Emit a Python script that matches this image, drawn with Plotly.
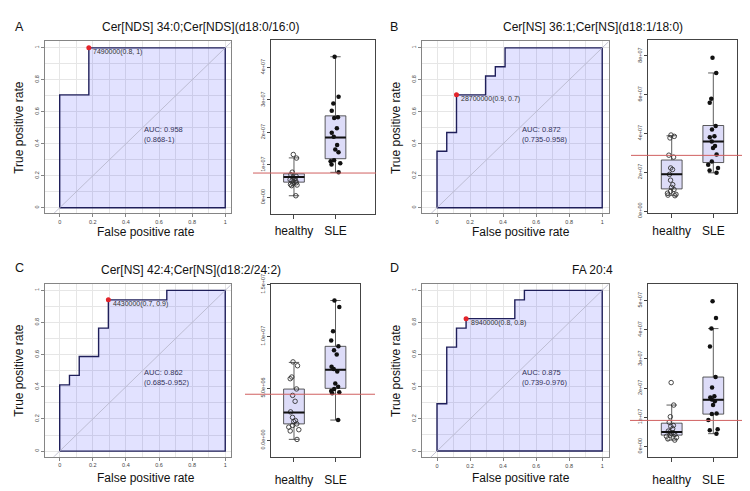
import plotly.graph_objects as go

# ---------------- data ----------------
titles = ["Cer[NDS] 34:0;Cer[NDS](d18:0/16:0)",
          "Cer[NS] 36:1;Cer[NS](d18:1/18:0)",
          "Cer[NS] 42:4;Cer[NS](d18:2/24:2)",
          "FA 20:4"]
letters = ["A", "B", "C", "D"]
groups = ["healthy", "SLE"]

roc_fpr_A = [0, 0, 0.176, 0.176, 1]
roc_tpr_A = [0, 0.706, 0.706, 1, 1]
roc_fpr_B = [0, 0, 0.059, 0.059, 0.118, 0.118, 0.294, 0.294, 0.353, 0.353, 0.412, 0.412, 1]
roc_tpr_B = [0, 0.353, 0.353, 0.471, 0.471, 0.706, 0.706, 0.824, 0.824, 0.882, 0.882, 1, 1]
roc_fpr_C = [0, 0, 0.059, 0.059, 0.118, 0.118, 0.235, 0.235, 0.294, 0.294, 0.647, 0.647, 1]
roc_tpr_C = [0, 0.412, 0.412, 0.471, 0.471, 0.588, 0.588, 0.765, 0.765, 0.941, 0.941, 1, 1]
roc_fpr_D = [0, 0, 0.059, 0.059, 0.118, 0.118, 0.176, 0.176, 0.471, 0.471, 0.529, 0.529, 1]
roc_tpr_D = [0, 0.294, 0.294, 0.647, 0.647, 0.765, 0.765, 0.824, 0.824, 0.941, 0.941, 1, 1]

auc = [0.958, 0.872, 0.862, 0.875]
auc_lo = [0.868, 0.735, 0.685, 0.739]
auc_hi = [1, 0.958, 0.952, 0.976]
thresholds = [7490000, 28700000, 4430000, 8940000]
best_spec = [0.8, 0.9, 0.7, 0.8]
best_sens = [1, 0.7, 0.9, 0.8]
best_fpr = [0.176, 0.118, 0.294, 0.176]
best_tpr = [1.0, 0.706, 0.941, 0.824]

healthy_q1 = [4.69e6, 1.14e7, 1.57e6, 3.9e6]
healthy_median = [6.27e6, 1.89e7, 2.66e6, 5.0e6]
healthy_q3 = [7.25e6, 2.63e7, 4.93e6, 8.0e6]
healthy_low = [0.5e6, 0.81e7, 0.08e6, 2.2e6]
healthy_high = [1.215e7, 3.88e7, 7.5e6, 1.42e7]
sle_q1 = [1.19e7, 2.50e7, 5.0e6, 1.11e7]
sle_median = [1.84e7, 3.58e7, 6.8e6, 1.60e7]
sle_q3 = [2.51e7, 4.41e7, 9.05e6, 2.38e7]
sle_low = [7.7e6, 1.97e7, 1.94e6, 4.4e6]
sle_high = [4.33e7, 7.12e7, 1.347e7, 4.04e7]

healthy_A = [1.32e7, 1.21e7, 7.76e6, 7.0e6, 6.5e6, 6.2e6, 5.8e6, 5.5e6, 5.2e6, 5.0e6,
             4.7e6, 4.5e6, 4.2e6, 4.0e6, 3.8e6, 3.6e6, 0.5e6]
sle_A = [4.33e7, 3.10e7, 2.89e7, 2.67e7, 2.47e7, 2.44e7, 2.13e7, 1.99e7, 1.87e7, 1.61e7,
         1.47e7, 1.39e7, 1.14e7, 1.11e7, 1.05e7, 1.01e7, 7.7e6]
healthy_B = [3.92e7, 3.85e7, 3.77e7, 2.88e7, 2.78e7, 2.22e7, 2.14e7, 1.89e7, 1.59e7, 1.36e7,
             1.22e7, 1.11e7, 1.02e7, 0.92e7, 0.86e7, 0.82e7, 0.79e7]
sle_B = [7.9e7, 7.12e7, 5.79e7, 5.58e7, 4.38e7, 4.21e7, 3.85e7, 3.80e7, 3.58e7, 3.35e7,
         3.25e7, 2.92e7, 2.55e7, 2.39e7, 2.22e7, 2.09e7, 1.97e7]
healthy_C = [7.55e6, 7.18e6, 6.09e6, 5.93e6, 4.94e6, 4.32e6, 3.75e6, 2.73e6, 2.20e6, 1.89e6,
             1.79e6, 1.57e6, 1.42e6, 1.26e6, 1.01e6, 0.89e6, 0.07e6]
sle_C = [13.47e6, 12.85e6, 10.51e6, 9.61e6, 9.05e6, 8.67e6, 8.27e6, 7.09e6, 6.87e6, 6.62e6,
         5.47e6, 5.16e6, 4.94e6, 4.75e6, 4.63e6, 4.53e6, 1.94e6]
healthy_D = [2.19e7, 1.42e7, 1.02e7, 0.83e7, 0.72e7, 0.69e7, 0.61e7, 0.53e7, 0.50e7, 0.47e7,
             0.44e7, 0.41e7, 0.39e7, 0.35e7, 0.31e7, 0.26e7, 0.22e7]
sle_D = [4.98e7, 4.40e7, 4.04e7, 3.43e7, 2.38e7, 2.02e7, 1.72e7, 1.68e7, 1.61e7, 1.55e7,
         1.42e7, 1.13e7, 1.11e7, 0.91e7, 0.59e7, 0.56e7, 0.44e7]

box_tickvals = [[0, 1e7, 2e7, 3e7, 4e7],
                [0, 2e7, 4e7, 6e7, 8e7],
                [0, 5e6, 1e7, 1.5e7],
                [0, 1e7, 2e7, 3e7, 4e7, 5e7]]
box_ticktext = [["0e+00", "1e+07", "2e+07", "3e+07", "4e+07"],
                ["0e+00", "2e+07", "4e+07", "6e+07", "8e+07"],
                ["0.0e+00", "5.0e+06", "1.0e+07", "1.5e+07"],
                ["0e+00", "1e+07", "2e+07", "3e+07", "4e+07", "5e+07"]]

roc_fpr = [roc_fpr_A, roc_fpr_B, roc_fpr_C, roc_fpr_D]
roc_tpr = [roc_tpr_A, roc_tpr_B, roc_tpr_C, roc_tpr_D]
healthy_pts = [healthy_A, healthy_B, healthy_C, healthy_D]
sle_pts = [sle_A, sle_B, sle_C, sle_D]

# ---------------- layout geometry (pixels) ----------------
W, H = 750, 491
def px(x): return x / W
def py(y): return 1 - y / H

roc_frames = [(37.3, 222.7, 24, 201.2), (414.3, 600.5, 24, 201.5),
              (37.3, 222.7, 274.3, 452.7), (414.3, 600.5, 274.3, 453.0)]
roc_xr = [[-0.087, 1.033], [-0.089, 1.038], [-0.087, 1.033], [-0.089, 1.038]]
roc_yr = [[-0.033, 1.041], [-0.035, 1.041], [-0.036, 1.040], [-0.038, 1.040]]
box_frames = [(262.7, 366.5, 22.3, 202.0), (640.3, 728.7, 22.3, 201.5),
              (262.7, 351.7, 274.3, 452.7), (640.3, 728.7, 274.3, 452.7)]
box_xr = [[-0.561, 1.94], [-0.5625, 1.5625], [-0.561, 1.583], [-0.5625, 1.5625]]
box_yr = [[-0.507e7, 4.857e7], [-0.12e7, 8.84e7], [-1.61e6, 15.07e6], [-0.355e7, 5.57e7]]
red_x = [(245, 368), (623, 746), (237, 367), (622, 746)]
title_pos = [(91.7, 9), (493.3, 9), (90.7, 260), (561.7, 260)]
letter_pos = [(11.5, 9), (386, 9), (11.5, 258), (386, 258)]
xtitle_pos = [(137.5, 221), (513.3, 221), (137.5, 475), (513.3, 475)]
ytitle_x = [11, 387.3, 11, 387.3]
cat_standoff = [2, 2, 8, 8]

FONT = "Liberation Sans, Arial, sans-serif"
FILL = "rgba(60,60,255,0.15)"
BOXFILL = "#dddcf8"
NAVY = "#1f1f5a"

fig = go.Figure()
layout = dict(width=W, height=H, margin=dict(l=0, r=0, t=0, b=0),
              paper_bgcolor="white", plot_bgcolor="white", showlegend=False,
              font=dict(family=FONT, color="#222"))
shapes = []
annotations = []

for i in range(4):
    rx = f"x{i+1}" if i else "x"
    ry = f"y{i+1}" if i else "y"
    bx = f"x{i+5}"
    by = f"y{i+5}"
    # ---- ROC ----
    fig.add_trace(go.Scatter(x=roc_fpr[i] + [1, 0], y=roc_tpr[i] + [0, 0],
                             mode="lines", fill="toself", fillcolor=FILL,
                             line=dict(color=NAVY, width=1.4),
                             xaxis=rx, yaxis=ry, hoverinfo="skip"))
    fig.add_trace(go.Scatter(x=[best_fpr[i]], y=[best_tpr[i]], mode="markers",
                             marker=dict(color="#e3242b", size=5),
                             xaxis=rx, yaxis=ry))
    shapes.append(dict(type="line", xref=rx, yref=ry, x0=-0.3, y0=-0.3, x1=1.3, y1=1.3,
                       line=dict(color="#b4b4c8", width=0.8), layer="above"))
    annotations.append(dict(xref=rx, yref=ry, x=best_fpr[i], y=best_tpr[i],
                            text=f"{thresholds[i]:.0f}({best_spec[i]:g}, {best_sens[i]:g})",
                            showarrow=False, xanchor="left", yanchor="middle",
                            xshift=2.5, yshift=-4, font=dict(size=7, color="#333")))
    annotations.append(dict(xref=rx, yref=ry, x=0.5, y=0.457,
                            text=f"AUC: {auc[i]:.3f}<br>({auc_lo[i]:g}-{auc_hi[i]:g})",
                            showarrow=False, xanchor="left", yanchor="middle", align="left",
                            font=dict(size=7.5, color="#33335a")))
    l, r, t, b = roc_frames[i]
    axcommon = dict(showline=True, mirror=True, linecolor="#858585", linewidth=1,
                    ticks="outside", ticklen=3, tickwidth=0.8, tickcolor="#858585",
                    tickfont=dict(size=5.5, color="#444"), zeroline=False,
                    showgrid=True, gridcolor="#e6e6e6", gridwidth=0.8,
                    dtick=0.2, tick0=0,
                    minor=dict(dtick=0.1, showgrid=True, gridcolor="#e6e6e6", gridwidth=0.8))
    layout["xaxis" + (str(i + 1) if i else "")] = dict(
        domain=[px(l), px(r)], range=roc_xr[i], anchor=ry, **axcommon)
    layout["yaxis" + (str(i + 1) if i else "")] = dict(
        domain=[py(b), py(t)], range=roc_yr[i], anchor=rx, tickangle=-90, **axcommon)

    # ---- box ----
    fig.add_trace(go.Box(x=[0, 1], q1=[healthy_q1[i], sle_q1[i]],
                         median=[healthy_median[i], sle_median[i]],
                         q3=[healthy_q3[i], sle_q3[i]],
                         lowerfence=[healthy_low[i], sle_low[i]],
                         upperfence=[healthy_high[i], sle_high[i]],
                         width=0.5, whiskerwidth=0.5, fillcolor=BOXFILL,
                         line=dict(color="#333", width=0.8), boxpoints=False,
                         xaxis=bx, yaxis=by, hoverinfo="skip"))
    fig.add_trace(go.Box(y=healthy_pts[i], x0=0, width=0.5, boxpoints="all", jitter=0.6,
                         pointpos=0, fillcolor="rgba(0,0,0,0)",
                         line=dict(color="rgba(0,0,0,0)", width=0),
                         marker=dict(symbol="circle-open", size=4.5, color="#333",
                                     line=dict(width=0.9)),
                         xaxis=bx, yaxis=by))
    fig.add_trace(go.Box(y=sle_pts[i], x0=1, width=0.5, boxpoints="all", jitter=0.6,
                         pointpos=0, fillcolor="rgba(0,0,0,0)",
                         line=dict(color="rgba(0,0,0,0)", width=0),
                         marker=dict(symbol="circle", size=4.5, color="#111"),
                         xaxis=bx, yaxis=by))
    for pos, med in zip([0, 1], [healthy_median[i], sle_median[i]]):
        shapes.append(dict(type="line", xref=bx, yref=by, x0=pos - 0.25, x1=pos + 0.25,
                           y0=med, y1=med, line=dict(color="#111", width=2)))
    shapes.append(dict(type="line", xref="paper", yref=by,
                       x0=px(red_x[i][0]), x1=px(red_x[i][1]),
                       y0=thresholds[i], y1=thresholds[i],
                       line=dict(color="#d06060", width=1)))
    l, r, t, b = box_frames[i]
    layout[f"xaxis{i+5}"] = dict(domain=[px(l), px(r)], range=box_xr[i], anchor=by,
                                 showline=True, mirror=True, linecolor="#444", linewidth=1,
                                 tickvals=[0, 1], ticktext=groups, ticks="outside",
                                 ticklen=4, tickwidth=0.8, tickcolor="#444",
                                 ticklabelstandoff=cat_standoff[i],
                                 tickfont=dict(size=12, color="#111"),
                                 showgrid=False, zeroline=False)
    layout[f"yaxis{i+5}"] = dict(domain=[py(b), py(t)], range=box_yr[i], anchor=bx,
                                 showline=True, mirror=True, linecolor="#444", linewidth=1,
                                 tickvals=box_tickvals[i], ticktext=box_ticktext[i],
                                 ticks="outside", ticklen=3, tickwidth=0.8, tickcolor="#444",
                                 tickangle=-90, tickfont=dict(size=5.5, color="#444"),
                                 showgrid=False, zeroline=False)

    # ---- texts ----
    annotations.append(dict(xref="paper", yref="paper", x=px(title_pos[i][0]),
                            y=py(title_pos[i][1]), text=titles[i], showarrow=False,
                            xanchor="left", yanchor="middle",
                            font=dict(size=12, color="#111")))
    annotations.append(dict(xref="paper", yref="paper", x=px(letter_pos[i][0]),
                            y=py(letter_pos[i][1]), text=letters[i], showarrow=False,
                            xanchor="center", yanchor="middle",
                            font=dict(size=12.5, color="#111")))
    annotations.append(dict(xref="paper", yref="paper", x=px(xtitle_pos[i][0]),
                            y=py(xtitle_pos[i][1]), text="False positive rate",
                            showarrow=False, xanchor="center", yanchor="middle",
                            font=dict(size=12, color="#111")))
    annotations.append(dict(xref="paper", yref=ry, x=px(ytitle_x[i]), y=0.5,
                            text="True positive rate", textangle=-90, showarrow=False,
                            xanchor="center", yanchor="middle",
                            font=dict(size=12, color="#111")))

layout["shapes"] = shapes
layout["annotations"] = annotations
fig.update_layout(**layout)
fig.write_html("out.html")
